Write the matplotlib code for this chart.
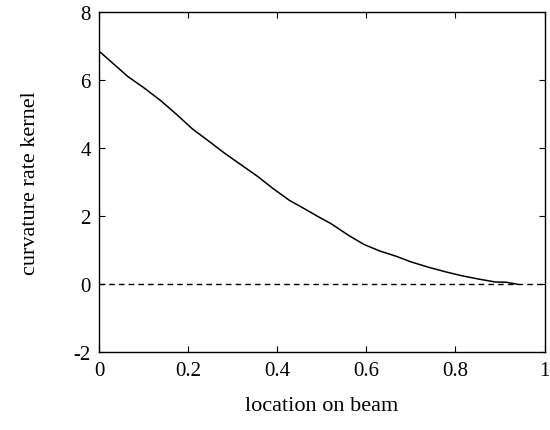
import matplotlib
matplotlib.use("Agg")
import matplotlib.pyplot as plt

plt.rcParams['font.family'] = ['Liberation Serif', 'DejaVu Serif']

x_loc = [0.0, 0.02, 0.065, 0.10, 0.139, 0.175, 0.21, 0.245, 0.282, 0.32, 0.356,
         0.39, 0.428, 0.449, 0.493, 0.521, 0.56, 0.595, 0.63, 0.668, 0.70,
         0.74, 0.78, 0.815, 0.85, 0.889, 0.915, 0.94]
kernel = [6.85, 6.62, 6.10, 5.78, 5.39, 4.98, 4.56, 4.22, 3.85, 3.50, 3.17,
          2.82, 2.46, 2.31, 1.98, 1.78, 1.44, 1.17, 0.98, 0.82, 0.66,
          0.50, 0.36, 0.25, 0.16, 0.07, 0.06, 0.0]

zero_x = [0.0, 1.0]
zero_y = [0.0, 0.0]

xticks = [0, 0.2, 0.4, 0.6, 0.8, 1]
xticklabels = ['0', '0.2', '0.4', '0.6', '0.8', '1']
yticks = [-2, 0, 2, 4, 6, 8]
yticklabels = ['-2', '0', '2', '4', '6', '8']

fig = plt.figure(figsize=(5.5, 4.31), dpi=100)
ax = fig.add_axes([0.18, 0.18, 0.81, 0.79])

ax.plot(x_loc, kernel, color='black', linewidth=1.1)
ax.plot(zero_x, zero_y, color='black', linewidth=1.0, linestyle=(0, (4, 3)))

ax.set_xlim(0, 1)
ax.set_ylim(-2, 8)
ax.set_xticks(xticks)
ax.set_xticklabels(xticklabels)
ax.set_yticks(yticks)
ax.set_yticklabels(yticklabels)
ax.tick_params(direction='in', length=4, width=0.8, labelsize=15,
               top=True, right=True, pad=6)
for s in ax.spines.values():
    s.set_linewidth(1.0)

ax.set_xlabel('location on beam', fontsize=16, labelpad=12)
ax.set_ylabel('curvature rate kernel', fontsize=16, labelpad=24)

fig.savefig('out.png', dpi=100)
